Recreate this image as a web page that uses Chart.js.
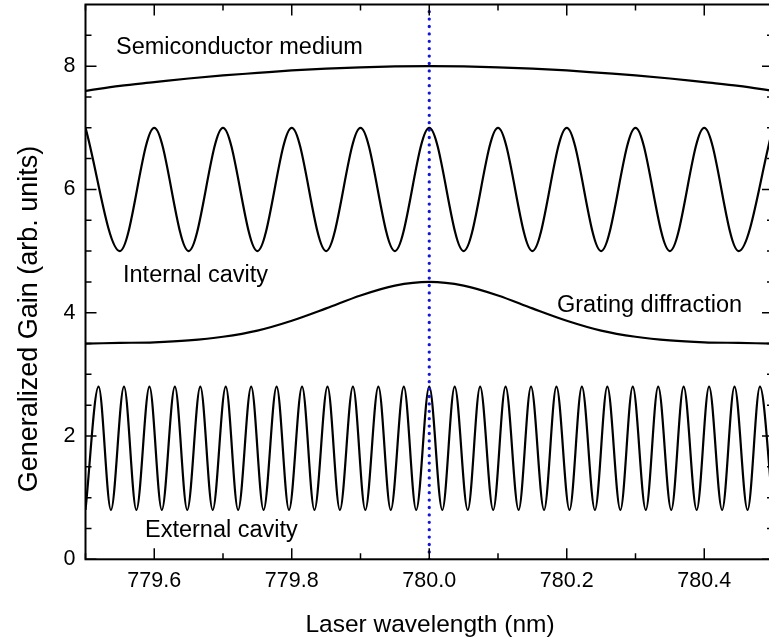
<!DOCTYPE html>
<html>
<head>
<meta charset="utf-8">
<script src="https://cdn.jsdelivr.net/npm/chart.js@4.4.0/dist/chart.umd.min.js"></script>
<style>
  html, body { margin: 0; padding: 0; background: #fff; overflow: hidden; }
  #wrap { width: 775px; height: 643px; position: relative; }
</style>
</head>
<body>
<div id="wrap"><canvas id="c" width="775" height="643"></canvas></div>
<script>
// ---- Data ----
const xTickValues = [779.6, 779.8, 780.0, 780.2, 780.4];
const xTickLabels = ['779.6', '779.8', '780.0', '780.2', '780.4'];
const xMinorTicks = [779.5, 779.7, 779.9, 780.1, 780.3, 780.5];
const yTickValues = [0, 2, 4, 6, 8];
const yTickLabels = ['0', '2', '4', '6', '8'];
const yMinorTicks = [0.5, 1, 1.5, 2.5, 3, 3.5, 4.5, 5, 5.5, 6.5, 7, 7.5, 8.5];

// Semiconductor medium (broad gain curve)
const semiX = [779.50, 779.55, 779.60, 779.65, 779.70, 779.75, 779.80, 779.85, 779.90, 779.95, 780.00,
               780.05, 780.10, 780.15, 780.20, 780.25, 780.30, 780.35, 780.40, 780.45, 780.50];
const semiY = [7.60, 7.68, 7.74, 7.80, 7.85, 7.89, 7.93, 7.96, 7.98, 7.995, 8.00,
               7.995, 7.98, 7.96, 7.93, 7.89, 7.85, 7.80, 7.74, 7.68, 7.60];

// Internal cavity (peaks and troughs)
const intX = [779.50, 779.55, 779.60, 779.65, 779.70, 779.75, 779.80, 779.85, 779.90, 779.95, 780.00,
              780.05, 780.10, 780.15, 780.20, 780.25, 780.30, 780.35, 780.40, 780.45, 780.50];
const intY = [7, 5, 7, 5, 7, 5, 7, 5, 7, 5, 7,
              5, 7, 5, 7, 5, 7, 5, 7, 5, 7];

// Grating diffraction
const gratX = [779.50, 779.55, 779.60, 779.65, 779.70, 779.75, 779.80, 779.85, 779.90, 779.95, 780.00,
               780.05, 780.10, 780.15, 780.20, 780.25, 780.30, 780.35, 780.40, 780.45, 780.50];
const gratY = [3.50, 3.51, 3.52, 3.55, 3.61, 3.71, 3.87, 4.07, 4.28, 4.44, 4.50,
               4.44, 4.28, 4.07, 3.87, 3.71, 3.61, 3.55, 3.52, 3.51, 3.50];

// External cavity (peaks and troughs)
const extX = [779.500, 779.519, 779.537, 779.556, 779.574, 779.593, 779.611, 779.630, 779.648, 779.667,
              779.685, 779.704, 779.722, 779.741, 779.759, 779.778, 779.796, 779.815, 779.833, 779.852,
              779.870, 779.889, 779.907, 779.926, 779.944, 779.963, 779.981, 780.000,
              780.019, 780.037, 780.056, 780.074, 780.093, 780.111, 780.130, 780.148, 780.167, 780.185,
              780.204, 780.222, 780.241, 780.259, 780.278, 780.296, 780.315, 780.333, 780.352, 780.370,
              780.389, 780.407, 780.426, 780.444, 780.463, 780.481, 780.500];
const extY = [0.8, 2.8, 0.8, 2.8, 0.8, 2.8, 0.8, 2.8, 0.8, 2.8,
              0.8, 2.8, 0.8, 2.8, 0.8, 2.8, 0.8, 2.8, 0.8, 2.8,
              0.8, 2.8, 0.8, 2.8, 0.8, 2.8, 0.8, 2.8,
              0.8, 2.8, 0.8, 2.8, 0.8, 2.8, 0.8, 2.8, 0.8, 2.8,
              0.8, 2.8, 0.8, 2.8, 0.8, 2.8, 0.8, 2.8, 0.8, 2.8,
              0.8, 2.8, 0.8, 2.8, 0.8, 2.8, 0.8];

// Vertical marker at the central wavelength
const markerX = [780.0, 780.0];
const markerY = [0, 9];

const labels = [
  { text: 'Semiconductor medium', x: 116, y: 54.3 },
  { text: 'Internal cavity', x: 123, y: 281.7 },
  { text: 'Grating diffraction', x: 557, y: 311.7 },
  { text: 'External cavity', x: 145, y: 536.7 }
];

const FONT = 'Arial, "Liberation Sans", sans-serif';
const pts = (xs, ys) => xs.map((x, i) => ({ x: x, y: ys[i] }));

function curve(xs, ys) {
  return {
    data: pts(xs, ys),
    borderColor: '#000',
    borderWidth: 2.2,
    pointRadius: 0,
    fill: false,
    cubicInterpolationMode: 'monotone',
    order: 1
  };
}

const framePlugin = {
  id: 'frame',
  afterDraw(chart) {
    const ctx = chart.ctx;
    const a = chart.chartArea;
    const xs = chart.scales.x, ys = chart.scales.y;
    ctx.save();
    ctx.strokeStyle = '#000';
    ctx.lineWidth = 2;
    ctx.strokeRect(a.left, a.top, a.right - a.left, a.bottom - a.top);
    ctx.lineWidth = 1.5;
    ctx.beginPath();
    const tickX = (v, len) => {
      const p = xs.getPixelForValue(v);
      ctx.moveTo(p, a.bottom); ctx.lineTo(p, a.bottom - len);
      ctx.moveTo(p, a.top); ctx.lineTo(p, a.top + len);
    };
    const tickY = (v, len) => {
      const p = ys.getPixelForValue(v);
      ctx.moveTo(a.left, p); ctx.lineTo(a.left + len, p);
      ctx.moveTo(a.right, p); ctx.lineTo(a.right - len, p);
    };
    xTickValues.forEach(v => tickX(v, 11));
    xMinorTicks.forEach(v => tickX(v, 6));
    yTickValues.forEach(v => tickY(v, 11));
    yMinorTicks.forEach(v => tickY(v, 6));
    ctx.stroke();

    ctx.fillStyle = '#000';
    ctx.font = '23.5px ' + FONT;
    ctx.textAlign = 'left';
    ctx.textBaseline = 'alphabetic';
    labels.forEach(l => ctx.fillText(l.text, l.x, l.y));

    ctx.font = '24.5px ' + FONT;
    ctx.textAlign = 'center';
    ctx.textBaseline = 'middle';
    ctx.fillText('Laser wavelength (nm)', 430, 625);

    ctx.save();
    ctx.translate(30, 319);
    ctx.rotate(-Math.PI / 2);
    ctx.font = '27px ' + FONT;
    ctx.fillText('Generalized Gain (arb. units)', 0, 0);
    ctx.restore();
    ctx.restore();
  }
};

new Chart(document.getElementById('c'), {
  type: 'line',
  data: {
    datasets: [
      {
        data: pts(markerX, markerY),
        borderColor: 'rgb(20,20,225)',
        borderWidth: 3.3,
        borderDash: [0, 7.4],
        borderCapStyle: 'round',
        pointRadius: 0,
        fill: false,
        order: 0
      },
      curve(semiX, semiY),
      curve(intX, intY),
      curve(gratX, gratY),
      curve(extX, extY)
    ]
  },
  options: {
    responsive: false,
    animation: false,
    layout: { padding: { top: 4.5, right: 2, left: 0, bottom: 0 } },
    plugins: { legend: { display: false }, tooltip: { enabled: false } },
    scales: {
      x: {
        type: 'linear',
        min: 779.5, max: 780.5,
        grid: { display: false, drawTicks: false },
        border: { display: false },
        afterBuildTicks: s => { s.ticks = xTickValues.map(v => ({ value: v })); },
        afterFit: s => { s.height = 83.7; s.paddingLeft = 0; s.paddingRight = 0; },
        ticks: {
          callback: (v, i) => xTickLabels[i],
          font: { size: 21.5, family: FONT },
          color: '#000',
          padding: 9,
          maxRotation: 0,
          autoSkip: false
        }
      },
      y: {
        type: 'linear',
        min: 0, max: 9,
        grid: { display: false, drawTicks: false },
        border: { display: false },
        afterBuildTicks: s => { s.ticks = yTickValues.map(v => ({ value: v })); },
        afterFit: s => { s.width = 85.5; s.paddingTop = 0; s.paddingBottom = 0; },
        ticks: {
          callback: (v, i) => yTickLabels[i],
          font: { size: 21.5, family: FONT },
          color: '#000',
          padding: 10,
          autoSkip: false
        }
      }
    }
  },
  plugins: [framePlugin]
});
</script>
</body>
</html>
